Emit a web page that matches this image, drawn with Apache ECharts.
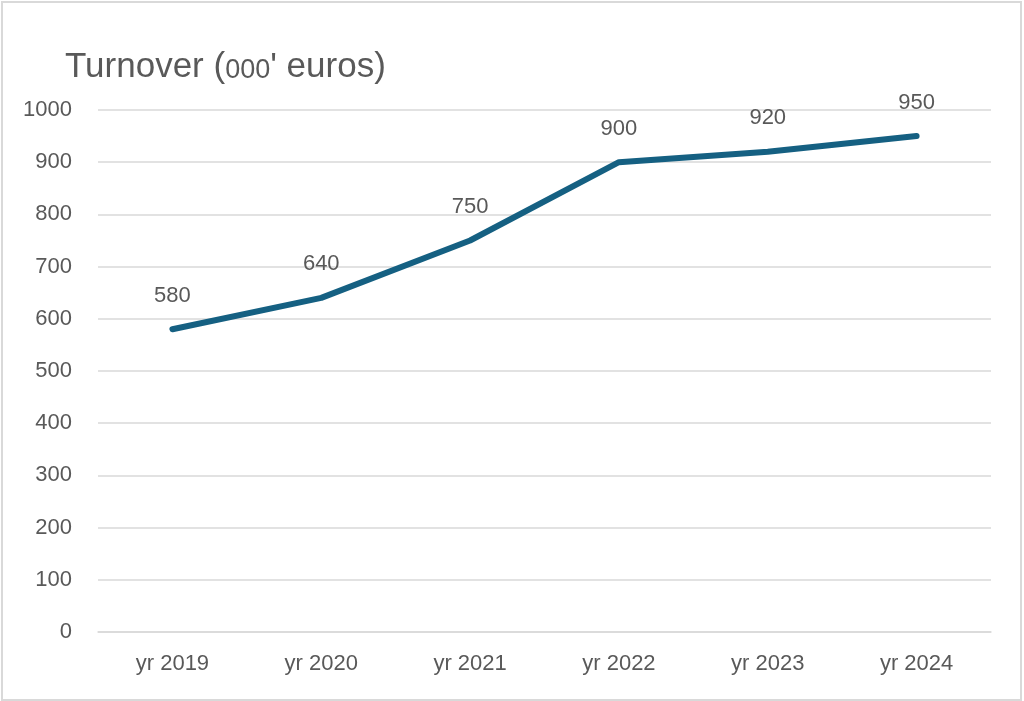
<!DOCTYPE html>
<html>
<head>
<meta charset="utf-8">
<script src="https://cdn.jsdelivr.net/npm/echarts@6/dist/echarts.min.js"></script>
<style>
  html, body { margin: 0; padding: 0; background: #fff; }
  #frame { position: absolute; left: 1px; top: 1px; width: 1017px; height: 696px; border: 2px solid #d9d9d9; }
  #chart { position: absolute; left: 0; top: 0; width: 1024px; height: 701px; }
</style>
</head>
<body>
<div id="frame"></div>
<div id="chart"></div>
<script>
const years = ['yr 2019', 'yr 2020', 'yr 2021', 'yr 2022', 'yr 2023', 'yr 2024']
const turnover = [580, 640, 750, 900, 920, 950]

const chart = echarts.init(document.getElementById('chart'))
const textColor = '#595959'
const font = '"Liberation Sans", Arial, sans-serif'

chart.setOption({
  backgroundColor: 'transparent',
  animation: false,
  title: {
    text: 'Turnover ({small|000}\' euros)',
    left: 60,
    top: 45,
    textStyle: {
      color: textColor,
      fontSize: 35,
      fontWeight: 'normal',
      fontFamily: font,
      rich: {
        small: { fontSize: 27, color: textColor, fontFamily: font, padding: [7, 0, 0, 0] },
      },
    },
  },
  grid: { left: 98, right: 33, top: 110, bottom: 69, containLabel: false },
  xAxis: {
    type: 'category',
    data: years,
    boundaryGap: true,
    axisLine: { lineStyle: { color: '#d9d9d9', width: 1.5 } },
    axisTick: { show: false },
    axisLabel: { color: textColor, fontSize: 22, fontFamily: font, margin: 21 },
  },
  yAxis: {
    type: 'value',
    min: 0,
    max: 1000,
    interval: 100,
    axisLine: { show: false },
    axisTick: { show: false },
    axisLabel: { color: textColor, fontSize: 22, fontFamily: font, margin: 26, formatter: v => String(v) },
    splitLine: { lineStyle: { color: '#d9d9d9', width: 1.5 } },
  },
  series: [{
    type: 'line',
    data: turnover,
    symbol: 'circle',
    symbolSize: 1,
    itemStyle: { color: '#156082' },
    lineStyle: { color: '#156082', width: 6, cap: 'round', join: 'round' },
    label: {
      show: true,
      position: 'top',
      distance: 22,
      color: textColor,
      fontSize: 22,
      fontFamily: font,
    },
  }],
})
</script>
</body>
</html>
